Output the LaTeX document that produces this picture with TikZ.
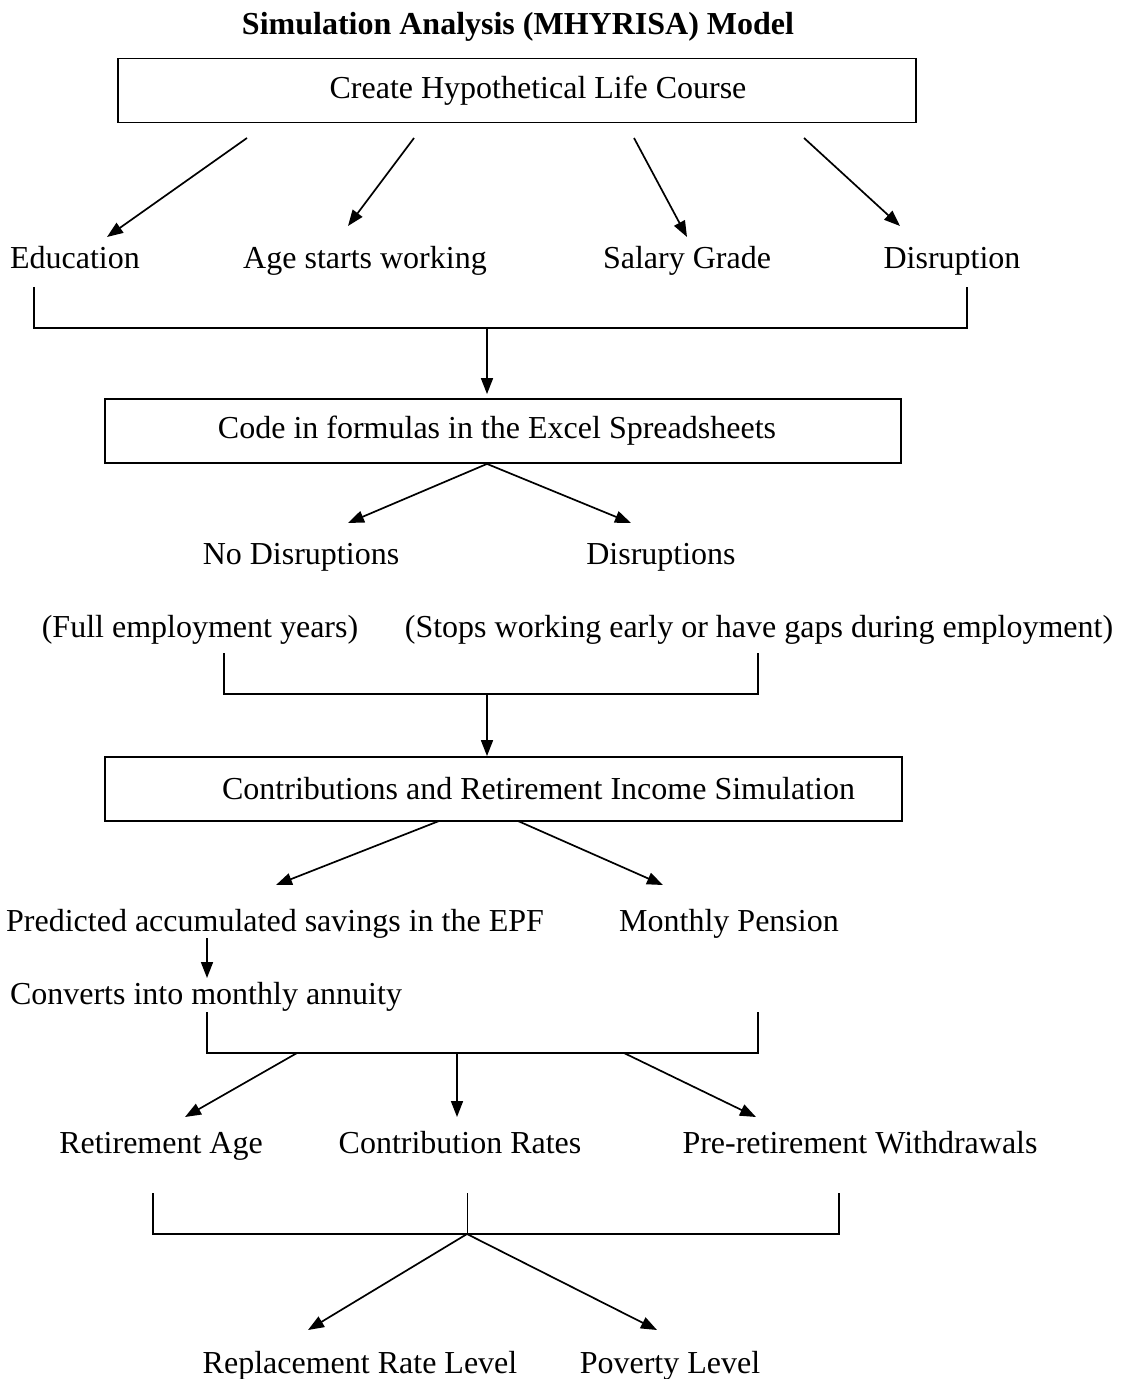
\documentclass[tikz,border=0pt]{standalone}
\usepackage{fontspec}
\setmainfont{Liberation Serif}
\usetikzlibrary{arrows.meta,positioning}
\tikzset{
  txt/.style={inner sep=0pt,anchor=base,font=\fontsize{16}{19}\selectfont},
  box/.style={draw,line width=0.9pt,inner sep=0pt,minimum height=32pt,font=\fontsize{16}{19}\selectfont},
  arr/.style={-{Triangle[length=8pt,width=6pt]},line width=0.85pt},
  brk/.style={line width=0.7pt}
}
\begin{document}
\begin{tikzpicture}[x=0.5pt,y=-0.5pt]
\useasboundingbox (0,0) rectangle (1125,1379);
% title and first box
\node[txt,font=\fontsize{16}{19}\selectfont\bfseries] (title) at (518,35) {Simulation Analysis (MHYRISA) Model};
\node[box,minimum width=399pt] (life) at (517,90.5) {\hspace*{21pt}Create Hypothetical Life Course};
% life course factors
\node[txt] (edu) at (75,269) {Education};
\node[txt] (age) at (365,269) {Age starts working};
\node[txt] (salary) at (687,269) {Salary Grade};
\node[txt] (disr) at (952,269) {Disruption};
\foreach \n/\x/\y in {s1/247/138, t1/107/237, s2/414/138, t2/348/226,
                      s3/634/138, t3/687/237, s4/804/138, t4/900/226}
  \coordinate (\n) at (\x,\y);
\draw[arr] (s1) -- (t1);
\draw[arr] (s2) -- (t2);
\draw[arr] (s3) -- (t3);
\draw[arr] (s4) -- (t4);
\coordinate (b1l) at (34,287);
\coordinate (b1r) at (967,287);
\coordinate (m1) at (487,328);
\draw[brk] (b1l) -- ++(0,41) -| (b1r);
% spreadsheet box
\node[box,minimum width=398pt] (code) at (503,431) {\hspace*{-6pt}Code in formulas in the Excel Spreadsheets};
\draw[arr,shorten >=2pt] (m1) -- (m1 |- code.north);
\node[txt] (nodis) at (301,564) {No Disruptions};
\node[txt] (dis) at (661,564) {Disruptions};
\node[txt] (full) at (200,637) {(Full employment years)};
\node[txt] (gaps) at (759,637) {(Stops working early or have gaps during employment)};
\coordinate (c1) at (348,523);
\coordinate (c2) at (631,523);
\draw[arr] (m1 |- code.south) -- (c1);
\draw[arr] (m1 |- code.south) -- (c2);
\coordinate (b2l) at (224,653);
\coordinate (b2r) at (758,653);
\draw[brk] (b2l) -- ++(0,41) -| (b2r);
% simulation box
\node[box,minimum width=398.5pt] (sim) at (503.5,789) {\hspace*{35pt}Contributions and Retirement Income Simulation};
\draw[arr] (m1 |- b2l) ++(0,41) -- (m1 |- sim.north);
\node[txt] (epf) at (275,931) {Predicted accumulated savings in the EPF};
\node[txt] (pension) at (729,931) {Monthly Pension};
\foreach \n/\x/\y in {d1/439/821, e1/276/885, d2/518/821, e2/663/885}
  \coordinate (\n) at (\x,\y);
\draw[arr] (d1) -- (e1);
\draw[arr] (d2) -- (e2);
\node[txt] (annuity) at (206,1004) {Converts into monthly annuity};
\draw[arr] (207,938) coordinate (f1) -- (207,978) coordinate (f2);
\coordinate (b3l) at (207,1012);
\coordinate (b3r) at (758,1012);
\draw[brk] (b3l) -- ++(0,41) -| (b3r);
% policy variables
\node[txt] (retage) at (161,1153) {Retirement Age};
\node[txt] (rates) at (460,1153) {Contribution Rates};
\node[txt] (withdraw) at (860,1153) {Pre-retirement Withdrawals};
\foreach \n/\x/\y in {g1/297/1053, h1/185/1117, g2/457/1053, h2/457/1117,
                      g3/624/1053, h3/756/1117}
  \coordinate (\n) at (\x,\y);
\draw[arr] (g1) -- (h1);
\draw[arr] (g2) -- (h2);
\draw[arr] (g3) -- (h3);
\coordinate (b4l) at (153,1193);
\coordinate (b4r) at (839,1193);
\coordinate (b4m) at (467,1193);
\coordinate (m4) at (467,1234);
\draw[brk] (b4l) -- ++(0,41) -| (b4r);
\draw[line width=0.5pt] (b4m) -- (m4);
% outcomes
\node[txt] (replace) at (360,1373) {Replacement Rate Level};
\node[txt] (poverty) at (670,1373) {Poverty Level};
\coordinate (k1) at (308,1330);
\coordinate (k2) at (657,1330);
\draw[arr] (m4) -- (k1);
\draw[arr] (m4) -- (k2);
\end{tikzpicture}
\end{document}
